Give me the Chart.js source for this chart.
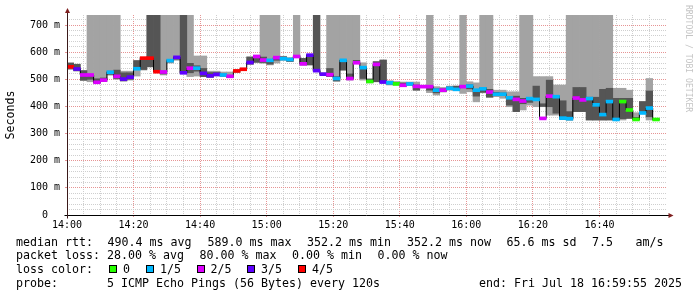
<!DOCTYPE html>
<html>
<head>
<meta charset="utf-8">
<script src="https://cdn.jsdelivr.net/npm/chart.js@4.4.1/dist/chart.umd.min.js"></script>
<style>
  html, body { margin: 0; padding: 0; background: #fff; }
  #wrap { position: relative; width: 697px; height: 297px; overflow: hidden; }
  #wrap canvas { position: absolute; left: 0; top: 0; }
  .t { position: absolute; font-family: 'DejaVu Sans Mono', monospace; font-size: 11.63px;
       line-height: 14px; color: #000; white-space: pre; }
  .sq { position: absolute; top: 265px; width: 6px; height: 6px; border: 1px solid #000; }
</style>
</head>
<body>
<div id="wrap">
  <canvas id="smoke" width="697" height="297"></canvas>

  <span class="t" style="left:16px;top:234.5px">median rtt:</span>
  <span class="t" style="left:107.5px;top:234.5px">490.4 ms avg</span>
  <span class="t" style="left:207.5px;top:234.5px">589.0 ms max</span>
  <span class="t" style="left:307px;top:234.5px">352.2 ms min</span>
  <span class="t" style="left:407px;top:234.5px">352.2 ms now</span>
  <span class="t" style="left:506.5px;top:234.5px">65.6 ms sd</span>
  <span class="t" style="left:592px;top:234.5px">7.5</span>
  <span class="t" style="left:635.5px;top:234.5px">am/s</span>

  <span class="t" style="left:16px;top:248.3px">packet loss:</span>
  <span class="t" style="left:107px;top:248.3px">28.00 % avg</span>
  <span class="t" style="left:199.5px;top:248.3px">80.00 % max</span>
  <span class="t" style="left:292px;top:248.3px">0.00 % min</span>
  <span class="t" style="left:377.5px;top:248.3px">0.00 % now</span>

  <span class="t" style="left:16px;top:262.3px">loss color:</span>
  <span class="sq" id="sq0" style="left:108.5px"></span><span class="t" style="left:123px;top:262.3px">0</span>
  <span class="sq" id="sq1" style="left:146px"></span><span class="t" style="left:160px;top:262.3px">1/5</span>
  <span class="sq" id="sq2" style="left:196.5px"></span><span class="t" style="left:210.5px;top:262.3px">2/5</span>
  <span class="sq" id="sq3" style="left:247px"></span><span class="t" style="left:261px;top:262.3px">3/5</span>
  <span class="sq" id="sq4" style="left:297.5px"></span><span class="t" style="left:312px;top:262.3px">4/5</span>

  <span class="t" style="left:16px;top:276.3px">probe:</span>
  <span class="t" style="left:107px;top:276.3px">5 ICMP Echo Pings (56 Bytes) every 120s</span>
  <span class="t" style="left:479px;top:276.3px">end: Fri Jul 18 16:59:55 2025</span>
</div>

<script>
// one sample every 2 minutes from 14:00
const STEP_MIN = 2;
const T = 800; // smoke that runs off the top of the graph

const median = [
  546, 538, 516, 516, 489, 497, 526, 511, 501, 508,
  539, 578, 578, 528, 527, 569, 581, 524, 541, 541,
  522, 513, 518, 516, 511, 531, 537, 562, 584, 571,
  570, 580, 576, 573, 584, 557, 589, 532, 519, 517,
  503, 570, 503, 561, 543, 492, 555, 490, 487, 483,
  478, 483, 474, 473, 473, 460, 460, 467, 463, 473,
  475, 460, 465, 453, 445, 445, 432, 426, 420, 429,
  426, 356, 438, 436, 357, 355, 431, 424, 429, 406,
  370, 418, 352, 418, 387, 352, 376, 394, 352
];

// lost pings out of 5
const lossCount = [
  4, 3, 2, 2, 2, 2, 1, 2, 3, 3,
  1, 4, 4, 4, 2, 1, 3, 3, 2, 1,
  3, 3, 3, 1, 2, 4, 4, 3, 2, 2,
  1, 2, 1, 1, 2, 2, 3, 3, 3, 2,
  1, 1, 2, 2, 1, 0, 2, 3, 1, 0,
  2, 1, 2, 2, 2, 1, 2, 1, 1, 2,
  1, 1, 1, 2, 1, 1, 1, 2, 2, 1,
  1, 2, 2, 1, 1, 1, 2, 2, 1, 1,
  1, 1, 1, 0, 0, 0, 1, 1, 0
];

// outer smoke (light grey)
const smokeLow = [
  536, 530, 495, 491, 485, 492, 515, 500, 494, 497,
  512, 534, 546, 528, 516, 560, 570, 522, 510, 512,
  510, 506, 512, 510, 506, 525, 533, 555, 561, 559,
  553, 560, 570, 565, 580, 553, 553, 528, 515, 510,
  491, 534, 497, 559, 497, 487, 491, 487, 479, 479,
  474, 477, 460, 470, 451, 442, 453, 460, 460, 448,
  454, 417, 450, 434, 436, 430, 399, 381, 387, 405,
  399, 399, 368, 368, 352, 350, 381, 381, 350, 350,
  350, 350, 350, 350, 356, 350, 375, 350, 350
];
const smokeHigh = [
  562, 556, 532, T, T, T, T, T, 530, 530,
  569, 575, T, T, T, T, T, T, T, 586,
  586, 530, 530, 527, 527, 535, 541, 583, 589, T,
  T, T, 585, 580, T, 577, 592, T, 524, T,
  T, T, T, T, 561, 503, 565, 571, 495, 492,
  490, 490, 490, 478, T, 473, 470, 475, 475, T,
  491, 487, T, T, 460, 460, 454, 454, T, T,
  510, 510, 510, 479, 479, T, T, T, T, T,
  T, T, 467, 467, 460, 377, 418, 503, 356
];

// inner smoke (dark grey)
const coreLow = [
  540, 532, 497, 500, 487, 493, 518, 503, 494, 500,
  540, 536, 546, 528, 520, 564, 574, 522, 524, 530,
  510, 508, 514, 512, 506, 527, 535, 556, 563, 562,
  556, 570, 572, 566, 582, 553, 553, 528, 516, 510,
  495, 534, 500, 559, 503, 489, 491, 487, 482, 480,
  475, 479, 460, 471, 460, 450, 455, 462, 460, 470,
  465, 438, 452, 434, 440, 440, 405, 381, 410, 415,
  424, 400, 399, 375, 352, 350, 381, 381, 350, 350,
  350, 350, 350, 355, 356, 350, 375, 362, 350
];
const coreHigh = [
  559, 555, 532, 515, 502, 505, 530, 534, 524, 524,
  569, 572, T, T, 530, 573, 583, T, 559, 550,
  540, 525, 525, 520, 515, 533, 539, 582, 588, 582,
  565, 583, 583, 577, 588, 577, 590, T, 522, 540,
  510, 571, 520, 570, 546, 500, 565, 571, 492, 488,
  486, 486, 479, 476, 475, 465, 465, 472, 475, 478,
  480, 457, 470, 463, 452, 450, 434, 438, 430, 432,
  475, 410, 497, 440, 421, 381, 470, 470, 434, 434,
  463, 467, 430, 430, 430, 360, 418, 457, 354
];

const lossColors = ['#26ff00', '#00b8ff', '#dd00ff', '#5e00ff', '#ff0000'];
const timeLabels = ['14:00', '14:20', '14:40', '15:00', '15:20', '15:40', '16:00', '16:20', '16:40'];
const yTickLabels = ['0  ', '100 m', '200 m', '300 m', '400 m', '500 m', '600 m', '700 m'];

lossColors.forEach((c, i) => { document.getElementById('sq' + i).style.background = c; });

const MONO = "'DejaVu Sans Mono', monospace";
const MAJOR = '#e69494';
const MINOR = '#cfcfcf';
const MEDIAN_HALF = 5.5; // half thickness of the median line, in ms

// grid: every 20 ms up the side, every 5 minutes along the bottom
const yGrid = Array.from({ length: 37 }, (_, i) => i * 20);
const xGrid = Array.from({ length: 37 }, (_, i) => i * 5);

function at(i) { return i * STEP_MIN + STEP_MIN / 2; }

const band = (lo, hi) => lo.map((v, i) => ({ x: at(i), y: [v, hi[i]] }));

const barBase = { type: 'bar', grouped: false, barPercentage: 1, categoryPercentage: 1, borderWidth: 0, clip: 0 };

// axis lines, arrows and the rrdtool credit
const frame = {
  id: 'frame',
  afterDatasetsDraw(chart) {
    const { ctx, chartArea: a } = chart;
    const bx = Math.round(a.left) + 0.5, by = Math.round(a.bottom) + 0.5;
    ctx.save();
    ctx.lineWidth = 1;
    ctx.strokeStyle = '#000';
    ctx.beginPath();
    ctx.moveTo(bx - 3, by); ctx.lineTo(a.right + 3, by);
    ctx.stroke();
    ctx.strokeStyle = '#3a1a1a';
    ctx.beginPath();
    ctx.moveTo(bx, by + 3); ctx.lineTo(bx, a.top - 3);
    ctx.stroke();
    ctx.fillStyle = '#7f1f1f';
    ctx.beginPath();
    ctx.moveTo(a.right + 2.5, by - 2.5); ctx.lineTo(a.right + 7.5, by); ctx.lineTo(a.right + 2.5, by + 2.5);
    ctx.fill();
    ctx.beginPath();
    ctx.moveTo(bx - 2.5, a.top - 2); ctx.lineTo(bx, a.top - 7); ctx.lineTo(bx + 2.5, a.top - 2);
    ctx.fill();
    ctx.translate(688, 5);
    ctx.rotate(Math.PI / 2);
    ctx.font = "8.1px 'DejaVu Sans Mono'";
    ctx.fillStyle = '#c4c4c4';
    ctx.textBaseline = 'middle';
    ctx.textAlign = 'left';
    ctx.fillText('RRDTOOL / TOBI OETIKER', 0, 0);
    ctx.restore();
  }
};

new Chart(document.getElementById('smoke'), {
  type: 'bar',
  data: {
    datasets: [
      Object.assign({}, barBase, {
        label: 'median',
        data: median.map((m, i) => ({ x: at(i), y: [m - MEDIAN_HALF, m + MEDIAN_HALF] })),
        backgroundColor: lossCount.map(n => lossColors[n]),
        order: 0
      }),
      {
        type: 'line',
        label: 'median step',
        data: median.map((m, i) => ({ x: at(i), y: m })),
        borderColor: '#000',
        borderWidth: 1,
        stepped: 'middle',
        pointRadius: 0,
        order: 1
      },
      Object.assign({}, barBase, {
        label: 'core',
        data: band(coreLow, coreHigh),
        backgroundColor: '#555555',
        order: 2
      }),
      Object.assign({}, barBase, {
        label: 'smoke',
        data: band(smokeLow, smokeHigh),
        backgroundColor: '#a3a3a3',
        order: 3
      })
    ]
  },
  options: {
    responsive: false,
    animation: false,
    layout: { padding: { left: 0, top: 15, right: 31, bottom: 62 } },
    plugins: { legend: { display: false }, tooltip: { enabled: false } },
    scales: {
      x: {
        type: 'linear',
        min: 0,
        max: 180,
        offset: false,
        afterBuildTicks: s => { s.ticks = xGrid.map(v => ({ value: v })); },
        grid: {
          offset: false,
          color: c => c.tick.value === 180 ? 'rgba(0,0,0,0)' : (c.tick.value % 20 === 0 ? MAJOR : MINOR),
          tickColor: c => (c.tick.value % 20 === 0 && c.tick.value < 180) ? MAJOR : 'rgba(0,0,0,0)',
          tickLength: 2
        },
        border: { display: false, dash: [1, 1] },
        ticks: {
          autoSkip: false,
          maxRotation: 0,
          padding: 2,
          color: '#000',
          font: { family: MONO, size: 10 },
          callback: v => (v % 20 === 0 && v < 180) ? timeLabels[v / 20] : ''
        },
        afterFit: s => { s.height = 20; }
      },
      y: {
        min: 0,
        max: 737,
        afterBuildTicks: s => { s.ticks = yGrid.map(v => ({ value: v })); },
        grid: {
          color: c => c.tick.value % 100 === 0 ? MAJOR : MINOR,
          tickColor: c => c.tick.value % 100 === 0 ? MAJOR : 'rgba(0,0,0,0)',
          tickLength: 2
        },
        border: { display: false, dash: [1, 1] },
        ticks: {
          autoSkip: false,
          padding: 5,
          color: '#000',
          font: { family: MONO, size: 10 },
          callback: v => v % 100 === 0 ? yTickLabels[v / 100] : ''
        },
        title: {
          display: true,
          text: 'Seconds',
          color: '#000',
          font: { family: MONO, size: 11.63 },
          padding: { top: 4, bottom: 4 }
        },
        afterFit: s => { s.width = 67; }
      }
    }
  },
  plugins: [frame]
});
</script>
</body>
</html>
